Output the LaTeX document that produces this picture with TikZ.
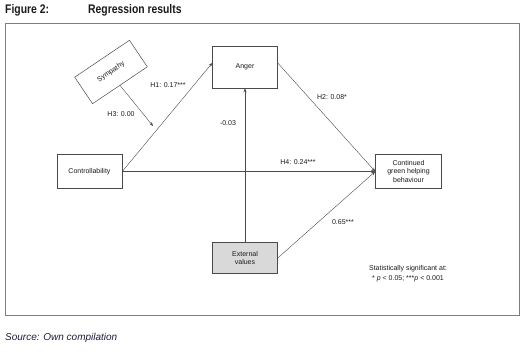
\documentclass[tikz,border=0pt]{standalone}
\usepackage{fontspec}
\setmainfont{Liberation Sans}
\newfontfamily\narrowbf[FakeStretch=0.83]{Liberation Sans Bold}
\usepackage{tikz}
\usetikzlibrary{arrows.meta,positioning}
\definecolor{ink}{HTML}{1A1A1A}
\definecolor{wire}{HTML}{4A4A4A}
\definecolor{frame}{HTML}{7F7F7F}
\definecolor{shade}{HTML}{D9D9D9}
\definecolor{navy}{HTML}{1C1C3A}

\begin{document}
\begin{tikzpicture}[x=1pt,y=1pt,>={Stealth[length=4pt,width=3pt]},
  box/.style={draw=wire,fill=white,line width=0.5pt,align=center,text=ink,inner sep=1pt,font=\fontsize{7}{8.5}\selectfont},
  lbl/.style={text=ink,inner sep=0pt,align=center,font=\fontsize{7}{10}\selectfont},
  link/.style={draw=wire,line width=0.4pt}]
  \useasboundingbox (0,0) rectangle (530,353);
  \draw[frame,line width=1pt] (5,37) rectangle (519,329);
  % title and source
  \node[anchor=west,inner sep=0pt,text=ink] (fig) at (5,343) {\narrowbf\fontsize{12.5}{14}\selectfont Figure 2:};
  \node[anchor=west,inner sep=0pt,text=ink] (title) at (88,343) {\narrowbf\fontsize{12.5}{14}\selectfont Regression results};
  \node[anchor=west,inner sep=0pt,text=navy] (src) at (5,15) {\fontsize{10}{12}\selectfont\itshape Source: Own compilation};
  % constructs
  \node[box,minimum width=65pt,minimum height=42pt] (anger) at (245,286) {Anger};
  \node[box,minimum width=65pt,minimum height=34pt] (ctrl) at (89.5,181.5) {Controllability};
  \node[box,minimum width=66pt,minimum height=32pt,rotate=34] (sym) at (111,281) {Sympathy};
  \node[box,minimum width=66pt,minimum height=34pt,right=253pt of ctrl] (cghb) {Continued\\green helping\\behaviour};
  \node[box,fill=shade,minimum width=65pt,minimum height=31pt,below=154pt of anger] (ext) {External\\values};
  \coordinate (h3end) at (153,227);
  % paths
  \draw[link,->] (ctrl.east) -- ([yshift=4pt]anger.west);
  \draw[link,->] (sym.south) -- (h3end);
  \draw[link,->] ([yshift=4pt]anger.east) -- (cghb.west);
  \draw[link,->] (ctrl.east) -- (cghb.west);
  \draw[link,->] (ext.north) -- (anger.south);
  \draw[link,->] (ext.east) -- (cghb.west);
  % coefficients
  \node[lbl] (h1) at (168,268) {H1: 0.17***};
  \node[lbl] (h3) at (121,239) {H3: 0.00};
  \node[lbl] (h2) at (332,256) {H2: 0.08*};
  \node[lbl] (h4) at (298,191) {H4: 0.24***};
  \node[lbl] (ev) at (228,230) {-0.03};
  \node[lbl] (evb) at (343,131) {0.65***};
  \node[lbl] (note) at (408,79) {Statistically significant at:\\* \textit{p} < 0.05; ***\textit{p} < 0.001};
\end{tikzpicture}
\end{document}
